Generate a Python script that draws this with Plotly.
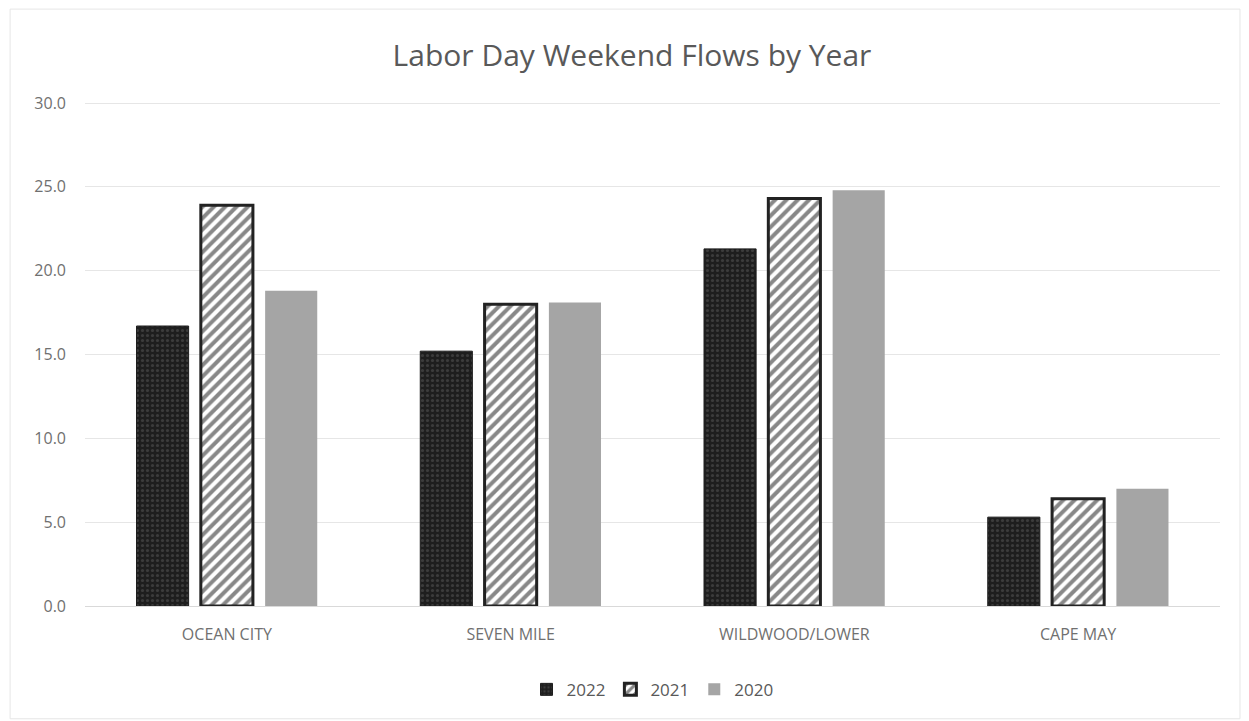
import plotly.graph_objects as go

categories = ["OCEAN CITY", "SEVEN MILE", "WILDWOOD/LOWER", "CAPE MAY"]
years = ["2022", "2021", "2020"]
v2022 = [16.7, 15.2, 21.3, 5.3]
v2021 = [23.9, 18.0, 24.3, 6.4]
v2020 = [18.8, 18.1, 24.8, 7.0]
y_ticks = [0, 5, 10, 15, 20, 25, 30]

fig = go.Figure()
fig.add_trace(go.Bar(
    name=years[0], x=categories, y=v2022,
    marker=dict(color="#1e1e1e", line=dict(color="#1e1e1e", width=1),
                pattern=dict(shape=".", fgcolor="#5a5a5a", bgcolor="#1e1e1e", size=5, solidity=0.3)),
))
fig.add_trace(go.Bar(
    name=years[1], x=categories, y=v2021,
    marker=dict(color="white", line=dict(color="#222222", width=3),
                pattern=dict(shape="/", fgcolor="#111111", bgcolor="white", size=8, solidity=0.5)),
))
fig.add_trace(go.Bar(
    name=years[2], x=categories, y=v2020,
    marker=dict(color="#a5a5a5", line=dict(color="#a5a5a5", width=0)),
))

font_family = "'Open Sans', Lato, sans-serif"
fig.update_layout(
    width=1249, height=721,
    paper_bgcolor="white", plot_bgcolor="white",
    margin=dict(l=85, r=29, t=98, b=115),
    title=dict(text="Labor Day Weekend Flows by Year", x=0.506, xanchor="center",
               y=0.923, yanchor="middle",
               font=dict(family=font_family, size=30, color="#595959")),
    barmode="group", bargap=0.32, bargroupgap=0.19,
    font=dict(family=font_family, color="#595959"),
    legend=dict(orientation="h", x=0.5, xanchor="center", y=-0.165, yanchor="middle",
                font=dict(size=17, color="#595959"), itemwidth=30, traceorder="normal"),
    xaxis=dict(showgrid=False, showline=True, linecolor="#d9d9d9", linewidth=1,
               tickfont=dict(size=16, color="#707070"), ticks="", ticklabelstandoff=14),
    yaxis=dict(range=[0, 30.3], tickvals=y_ticks, tickformat=".1f",
               showgrid=True, gridcolor="#e6e6e6", gridwidth=1, zeroline=False,
               tickfont=dict(size=16, color="#707070"), ticks="", ticklabelstandoff=18),
    shapes=[dict(type="rect", xref="paper", yref="paper", x0=-0.066, x1=1.0176, y0=-0.222, y1=1.175,
                 line=dict(color="#e6e6e6", width=1))],
)

fig.write_html("out.html", config={"displayModeBar": False},
               post_script="document.body.style.margin='0';")
